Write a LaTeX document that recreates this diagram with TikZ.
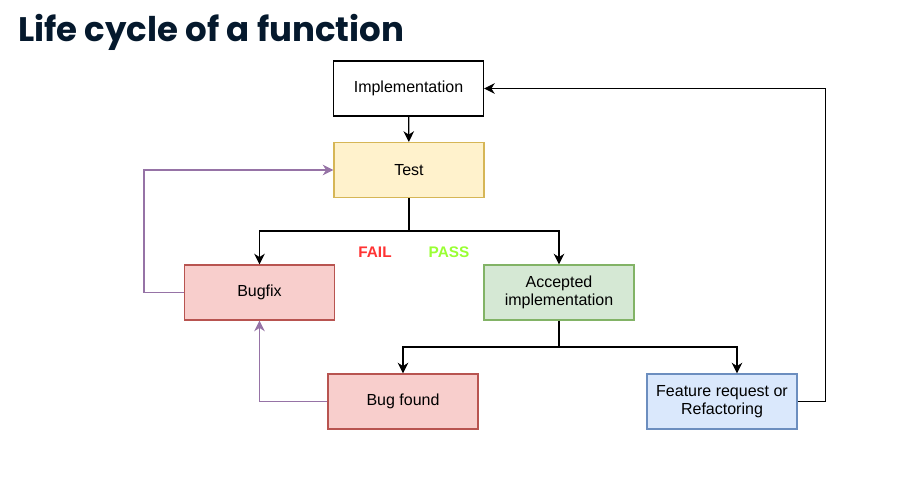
\documentclass[tikz,border=0pt]{standalone}
\usepackage{fontspec}
\setmainfont{Liberation Sans}
\newfontfamily\titlefont{Poppins}
\usepackage{tikz}
\usetikzlibrary{arrows.meta}

\definecolor{titleblue}{HTML}{05192D}
\definecolor{yellowfill}{HTML}{FFF2CC}
\definecolor{yellowline}{HTML}{D6B656}
\definecolor{redfill}{HTML}{F8CECC}
\definecolor{redline}{HTML}{B85450}
\definecolor{greenfill}{HTML}{D5E8D4}
\definecolor{greenline}{HTML}{82B366}
\definecolor{bluefill}{HTML}{DAE8FC}
\definecolor{blueline}{HTML}{6C8EBF}
\definecolor{purpleline}{HTML}{9673A6}
\definecolor{failred}{HTML}{FF3333}
\definecolor{passgreen}{HTML}{99FF33}

\begin{document}
\begin{tikzpicture}[x=0.75pt, y=-0.75pt,
  stage/.style={rectangle, draw=black, fill=white, line width=0.9pt, minimum width=112.5pt, minimum height=41.25pt, align=center, font=\fontsize{12}{13.5}\selectfont, inner sep=2pt},
  flow/.style={-{Stealth[length=8pt, width=8pt, inset=2.5pt]}, line width=1pt, black},
  fixflow/.style={-{Stealth[length=8pt, width=8pt, inset=2.5pt]}, line width=1pt, purpleline},
  verdict/.style={font=\fontsize{11.5}{12}\selectfont\bfseries}]

\useasboundingbox (0,0) rectangle (904,481);

% Title
\node[anchor=base west, inner sep=0pt, text=titleblue, font=\titlefont\fontsize{25.5}{28}\selectfont\bfseries] (title) at (18,42) {Life cycle of a function};

% Stages
\node[stage] (impl) at (408.5,88.5) {Implementation};
\node[stage, fill=yellowfill, draw=yellowline] (test) at (409,170) {Test};
\node[stage, fill=redfill, draw=redline] (bugfix) at (259.5,292.5) {Bugfix};
\node[stage, fill=greenfill, draw=greenline] (accepted) at (559,292.5) {Accepted\\implementation};
\node[stage, fill=redfill, draw=redline] (bugfound) at (403,401.5) {Bug found};
\node[stage, fill=bluefill, draw=blueline] (feature) at (722,401.5) {Feature request or\\Refactoring};

% Verdicts
\node[verdict, text=failred] (fail) at (375,252) {FAIL};
\node[verdict, text=passgreen] (pass) at (449,252) {PASS};

% Main flow
\coordinate (testsplit) at (409,231);
\coordinate (acceptsplit) at (559,347);

\draw[flow] (impl) -- (test);
\draw[line width=1pt] (test) -- (testsplit);
\draw[flow] (testsplit) -| (bugfix);
\draw[flow] (testsplit) -| (accepted);

\draw[line width=1pt] (accepted) -- (acceptsplit);
\draw[flow] (acceptsplit) -| (bugfound);
\draw[flow] (acceptsplit) -| ([xshift=11.25pt]feature.north);

\draw[flow] (feature.east) -- ++(28,0) |- (impl.east);

% Bugfix loop
\draw[fixflow] (bugfix.west) -- ++(-40,0) |- (test.west);
\draw[fixflow] (bugfound.west) -| (bugfix.south);
\end{tikzpicture}
\end{document}
